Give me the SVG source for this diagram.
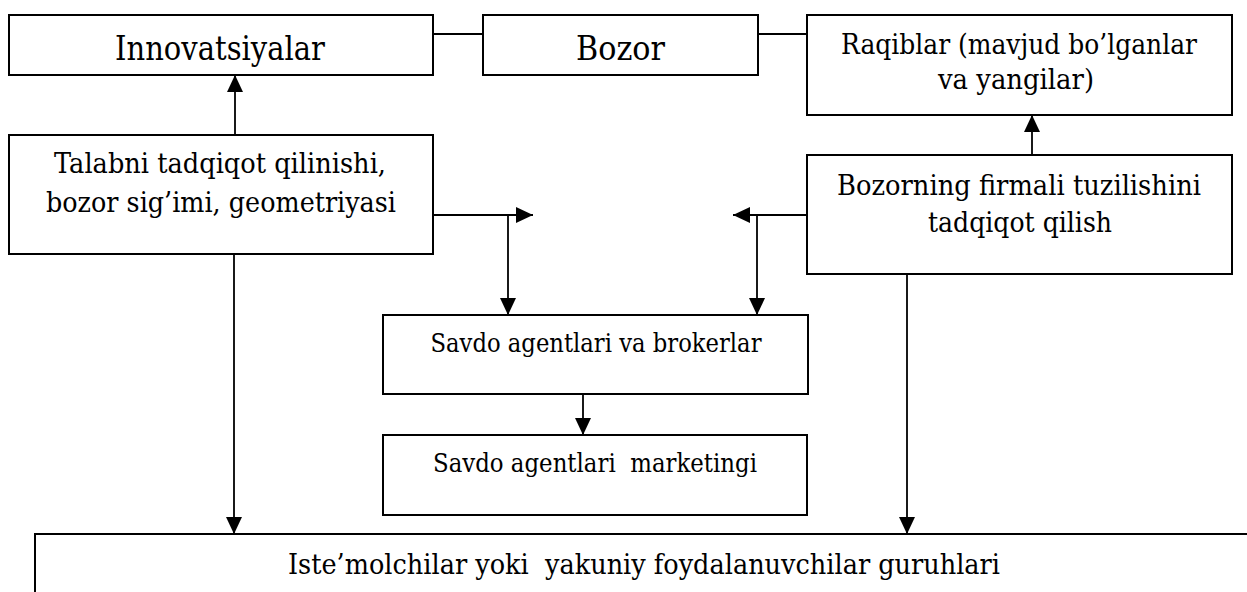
<svg xmlns="http://www.w3.org/2000/svg" width="1247" height="592" viewBox="0 0 1247 592">
  <style>
    .box { fill: #ffffff; stroke: #000000; stroke-width: 2; }
    .lbl { font-family: 'DejaVu Serif', 'Liberation Serif', serif; fill: #000000; text-anchor: middle; white-space: pre; }
    .big { font-size: 33px; }
    .mid { font-size: 28.8px; }
    .sm { font-size: 26.4px; }
    .wire { fill: none; stroke: #000000; stroke-width: 1.8; }
    .arrow { fill: none; stroke: #000000; stroke-width: 1.8; marker-end: url(#head); }
  </style>
  <defs>
    <marker id="head" markerUnits="userSpaceOnUse" markerWidth="17" markerHeight="16" refX="17" refY="8" orient="auto">
      <path d="M0,0 L17,8 L0,16 Z" fill="#000000"/>
    </marker>
  </defs>
  <rect width="1247" height="592" fill="#ffffff"/>

  <!-- connectors -->
  <g id="connectors">
    <line class="wire" x1="433" y1="34" x2="483" y2="34"/>
    <line class="wire" x1="758" y1="34" x2="807" y2="34"/>
    <line class="arrow" x1="235" y1="135" x2="235" y2="75"/>
    <line class="arrow" x1="1032" y1="155" x2="1032" y2="115"/>
    <line class="arrow" x1="433" y1="215" x2="533" y2="215"/>
    <line class="arrow" x1="508" y1="215" x2="508" y2="315"/>
    <line class="arrow" x1="807" y1="215" x2="733" y2="215"/>
    <line class="arrow" x1="757" y1="215" x2="757" y2="315"/>
    <line class="arrow" x1="583" y1="394" x2="583" y2="435"/>
    <line class="arrow" x1="234" y1="254" x2="234" y2="534"/>
    <line class="arrow" x1="907" y1="274" x2="907" y2="534"/>
  </g>

  <g id="innovatsiyalar">
    <rect class="box" x="9" y="15" width="424" height="60"/>
    <text class="lbl big" x="220" y="60" textLength="210" lengthAdjust="spacingAndGlyphs">Innovatsiyalar</text>
  </g>

  <g id="bozor">
    <rect class="box" x="483" y="15" width="275" height="60"/>
    <text class="lbl big" x="620.5" y="60" textLength="89" lengthAdjust="spacingAndGlyphs">Bozor</text>
  </g>

  <g id="raqiblar">
    <rect class="box" x="807" y="15" width="425" height="100"/>
    <text class="lbl" x="1019" y="54" font-size="27.5" textLength="356" lengthAdjust="spacingAndGlyphs">Raqiblar (mavjud bo’lganlar</text>
    <text class="lbl mid" x="1016" y="89" textLength="156" lengthAdjust="spacingAndGlyphs">va yangilar)</text>
  </g>

  <g id="talab">
    <rect class="box" x="9" y="135" width="424" height="119"/>
    <text class="lbl mid" x="220" y="173" textLength="332" lengthAdjust="spacingAndGlyphs">Talabni tadqiqot qilinishi,</text>
    <text class="lbl mid" x="221" y="212" textLength="350" lengthAdjust="spacingAndGlyphs">bozor sig’imi, geometriyasi</text>
  </g>

  <g id="firmaviy-tuzilish">
    <rect class="box" x="807" y="155" width="425" height="119"/>
    <text class="lbl mid" x="1019" y="195" textLength="364" lengthAdjust="spacingAndGlyphs">Bozorning firmali tuzilishini</text>
    <text class="lbl mid" x="1020" y="232" textLength="184" lengthAdjust="spacingAndGlyphs">tadqiqot qilish</text>
  </g>

  <g id="agentlar">
    <rect class="box" x="383" y="315" width="425" height="79"/>
    <text class="lbl sm" x="596" y="352" textLength="331" lengthAdjust="spacingAndGlyphs">Savdo agentlari va brokerlar</text>
  </g>

  <g id="agentlar-marketingi">
    <rect class="box" x="383" y="435" width="424" height="80"/>
    <text class="lbl sm" x="595" y="472" textLength="324" lengthAdjust="spacingAndGlyphs" xml:space="preserve">Savdo agentlari  marketingi</text>
  </g>

  <g id="iste-molchilar">
    <rect class="box" x="35" y="534" width="1240" height="90"/>
    <text class="lbl mid" x="644" y="574" textLength="712" lengthAdjust="spacingAndGlyphs" xml:space="preserve">Iste’molchilar yoki  yakuniy foydalanuvchilar guruhlari</text>
  </g>
</svg>
